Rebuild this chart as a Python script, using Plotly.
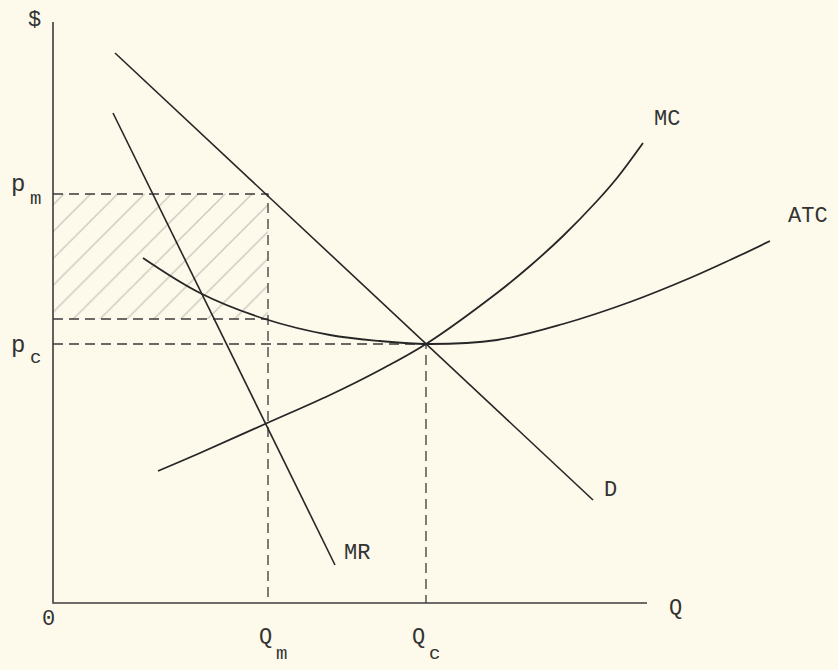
import plotly.graph_objects as go

# values (units: distance from origin)
d_q = [62, 540]
d_p = [550, 103]
mr_q = [60, 282]
mr_p = [490, 38]
mc_q = [105, 147, 212, 277, 327, 373, 444, 477, 510, 544, 564, 590]
mc_p = [132, 150, 179, 208, 233, 259, 310, 337, 367, 402, 425, 460]
atc_q = [90, 147, 212, 277, 327, 373, 444, 510, 577, 637, 677, 717]
atc_p = [345, 310, 284, 268, 262, 259, 263, 279, 301, 325, 343, 362]
q_m, q_c = 215, 373
p_m, p_c = 409, 259
atc_at_qm = 284
q_max, p_max = 594, 581

ink = "#262626"
bg = "#fdfaeb"
font = "Liberation Mono"

fig = go.Figure()

# shaded profit rectangle
fig.add_trace(go.Scatter(
    x=[0, q_m, q_m, 0, 0], y=[atc_at_qm, atc_at_qm, p_m, p_m, atc_at_qm],
    mode="lines", fill="toself", line=dict(width=0), fillcolor="rgba(0,0,0,0)",
    fillpattern=dict(shape="/", size=19, solidity=0.07, fgcolor="#94948a", bgcolor="rgba(0,0,0,0)"),
    hoverinfo="skip"))

dash = dict(color="#3a3a3a", width=1.3, dash="10px,6px")
fig.add_trace(go.Scatter(x=[0, q_m, q_m], y=[p_m, p_m, 0], mode="lines", line=dash))
fig.add_trace(go.Scatter(x=[0, q_m], y=[atc_at_qm, atc_at_qm], mode="lines", line=dash))
fig.add_trace(go.Scatter(x=[0, q_c, q_c], y=[p_c, p_c, 0], mode="lines", line=dash))

# axes
fig.add_trace(go.Scatter(x=[0, 0, q_max], y=[p_max, 0, 0], mode="lines", line=dict(color="#3c3c3c", width=1.6)))

# curves
fig.add_trace(go.Scatter(x=d_q, y=d_p, mode="lines", line=dict(color=ink, width=1.6)))
fig.add_trace(go.Scatter(x=mr_q, y=mr_p, mode="lines", line=dict(color=ink, width=1.6)))
fig.add_trace(go.Scatter(x=mc_q, y=mc_p, mode="lines", line=dict(color=ink, width=1.8, shape="spline", smoothing=1)))
fig.add_trace(go.Scatter(x=atc_q, y=atc_p, mode="lines", line=dict(color=ink, width=1.8, shape="spline", smoothing=1)))

labels = [
    ("$", -19, 583, 22),
    ("MC", mc_q[-1] + 24, mc_p[-1] + 24, 22),
    ("ATC", atc_q[-1] + 38, atc_p[-1] + 25, 22),
    ("D", d_q[-1] + 17, d_p[-1] + 10, 22),
    ("MR", mr_q[-1] + 22, mr_p[-1] + 12, 22),
    ("Q", q_max + 28, -5, 22),
    ("0", -5, -16, 22),
    ("p", -35, p_m + 10, 24),
    ("m", -18, p_m - 5, 19),
    ("p", -35, p_c - 1, 24),
    ("c", -18, p_c - 14, 19),
    ("Q", q_m - 3, -34, 22),
    ("m", q_m + 13, -51, 19),
    ("Q", q_c - 8, -34, 22),
    ("c", q_c + 8, -51, 19),
]
for txt, x, y, size in labels:
    fig.add_annotation(x=x, y=y, text=txt, showarrow=False,
                       font=dict(family=font, size=size, color="#333333"))

# page body has an 8px margin, so the figure is 830x662 and its ranges start 8px in
fig.update_layout(
    width=830, height=662, showlegend=False,
    margin=dict(l=0, r=0, t=0, b=0),
    paper_bgcolor=bg, plot_bgcolor=bg,
    xaxis=dict(range=[-45, 785], visible=False, fixedrange=True),
    yaxis=dict(range=[-67, 595], visible=False, fixedrange=True),
)

fig.write_html("out.html", post_script="document.body.style.background='%s';" % bg)
